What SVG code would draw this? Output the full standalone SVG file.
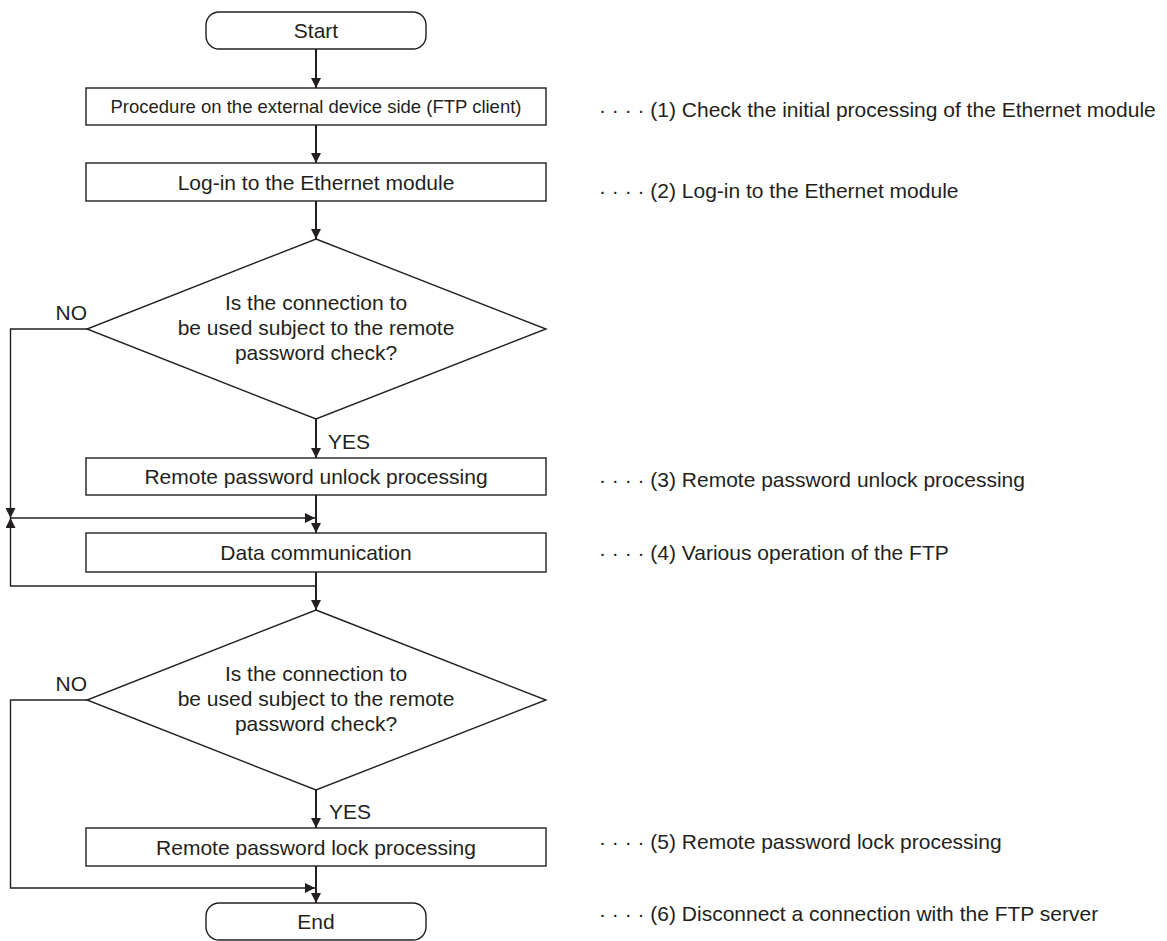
<svg xmlns="http://www.w3.org/2000/svg" width="1167" height="941" viewBox="0 0 1167 941">
  <defs>
    <style>
      .shape { fill: #ffffff; stroke: #231f20; stroke-width: 1.4; }
      .t { font-family: "Liberation Sans", Arial, sans-serif; font-size: 21px; fill: #231f20; }
      .tc { text-anchor: middle; }
      .small { font-size: 18.5px; }
      .main { fill: none; stroke: #231f20; stroke-width: 2; }
      .side { fill: none; stroke: #231f20; stroke-width: 1.4; }
    </style>
    <marker id="arrow" viewBox="0 0 10 10" refX="10" refY="5" markerWidth="10" markerHeight="10" markerUnits="userSpaceOnUse" orient="auto">
      <path d="M0,0 L10,5 L0,10 z" fill="#231f20"/>
    </marker>
  </defs>
  <rect width="1167" height="941" fill="#ffffff"/>

  <g id="connectors">
    <path class="main" d="M316,49 V88" marker-end="url(#arrow)"/>
    <path class="main" d="M316,125 V163" marker-end="url(#arrow)"/>
    <path class="main" d="M316,201 V239" marker-end="url(#arrow)"/>
    <path class="main" d="M316,419 V458" marker-end="url(#arrow)"/>
    <path class="main" d="M316,495 V533" marker-end="url(#arrow)"/>
    <path class="side" d="M87,329 H10.5 V518" marker-end="url(#arrow)"/>
    <path class="side" d="M10.5,518 H315" marker-end="url(#arrow)"/>
    <path class="main" d="M316,572 V610" marker-end="url(#arrow)"/>
    <path class="side" d="M316,586 H10.5 V518" marker-end="url(#arrow)"/>
    <path class="main" d="M316,790 V828" marker-end="url(#arrow)"/>
    <path class="main" d="M316,866 V903" marker-end="url(#arrow)"/>
    <path class="side" d="M87,700 H10.5 V888 H315" marker-end="url(#arrow)"/>
    <text class="t" x="87" y="320" text-anchor="end">NO</text>
    <text class="t" x="328" y="449">YES</text>
    <text class="t" x="87" y="691" text-anchor="end">NO</text>
    <text class="t" x="329" y="819">YES</text>
  </g>

  <g id="start">
    <rect class="shape" x="206" y="12" width="220" height="37" rx="13"/>
    <text class="t tc" x="316" y="38">Start</text>
  </g>

  <g id="procedure">
    <rect class="shape" x="86" y="88" width="460" height="37"/>
    <text class="t tc small" x="316" y="112.5">Procedure on the external device side (FTP client)</text>
  </g>

  <g id="login">
    <rect class="shape" x="86" y="163" width="460" height="38"/>
    <text class="t tc" x="316" y="189.5">Log-in to the Ethernet module</text>
  </g>

  <g id="decision1">
    <polygon class="shape" points="316,239 546,329 316,419 87,329"/>
    <text class="t tc" x="316" y="309.5">Is the connection to</text>
    <text class="t tc" x="316" y="334.5">be used subject to the remote</text>
    <text class="t tc" x="316" y="359.5">password check?</text>
  </g>

  <g id="unlock">
    <rect class="shape" x="86" y="458" width="460" height="37"/>
    <text class="t tc" x="316" y="484">Remote password unlock processing</text>
  </g>

  <g id="datacomm">
    <rect class="shape" x="86" y="533" width="460" height="39"/>
    <text class="t tc" x="316" y="560">Data communication</text>
  </g>

  <g id="decision2">
    <polygon class="shape" points="316,610 546,700 316,790 87,700"/>
    <text class="t tc" x="316" y="680.5">Is the connection to</text>
    <text class="t tc" x="316" y="705.5">be used subject to the remote</text>
    <text class="t tc" x="316" y="730.5">password check?</text>
  </g>

  <g id="lock">
    <rect class="shape" x="86" y="828" width="460" height="38"/>
    <text class="t tc" x="316" y="854.5">Remote password lock processing</text>
  </g>

  <g id="end">
    <rect class="shape" x="206" y="903" width="220" height="37" rx="13"/>
    <text class="t tc" x="316" y="929">End</text>
  </g>

  <g id="notes">
    <text class="t" x="599" y="117">· · · · (1) Check the initial processing of the Ethernet module</text>
    <text class="t" x="599" y="198">· · · · (2) Log-in to the Ethernet module</text>
    <text class="t" x="599" y="487">· · · · (3) Remote password unlock processing</text>
    <text class="t" x="599" y="560">· · · · (4) Various operation of the FTP</text>
    <text class="t" x="599" y="849">· · · · (5) Remote password lock processing</text>
    <text class="t" x="599" y="921">· · · · (6) Disconnect a connection with the FTP server</text>
  </g>
</svg>
